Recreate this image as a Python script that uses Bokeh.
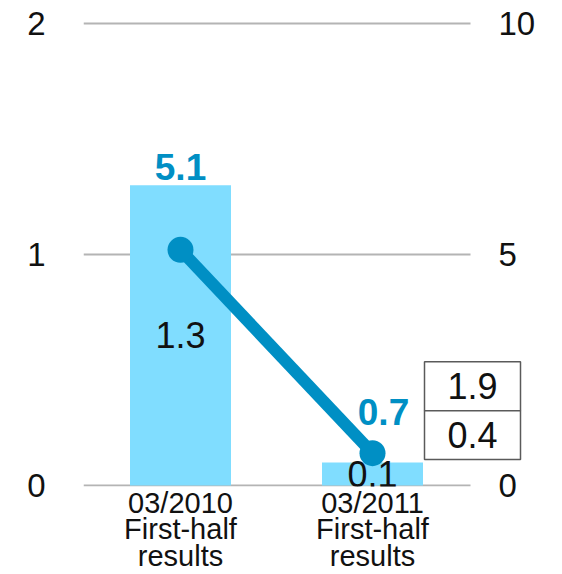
from bokeh.plotting import figure
from bokeh.models import Range1d, LinearAxis, FixedTicker, BoxAnnotation, Label
from bokeh.embed import file_html
from bokeh.resources import INLINE
from bokeh.core.properties import value

# ---------------- data ----------------
periods = ["03/2010\nFirst-half\nresults", "03/2011\nFirst-half\nresults"]
bar_values = [1.3, 0.1]          # left axis
line_values = [5.1, 0.7]         # right axis
box_values = [1.9, 0.4]          # boxed figures
left_ticks = [0, 1, 2]
right_ticks = [0, 5, 10]

# ---------------- style / layout ----------------
FONT = "Liberation Sans"
BAR_COLOR = "#80DDFF"
LINE_COLOR = "#008FC4"
GRID_COLOR = "#B4B4B4"
TEXT_COLOR = "#111111"
BOX_LINE = "#5A5A5A"

W, H = 562, 574
# pixel geometry of the reference
CAT0_PX, CAT_STEP = 180, 192        # x centre of first category, px between categories
Y0_PX, PX_PER_UNIT = 486, 231.5     # y of zero line, px per left-axis unit
FRAME_L, FRAME_R = 83, 556
FRAME_T, FRAME_B = 15, 487
GRID_L, GRID_R = 83, 470
RIGHT_LABEL_X = 498
RIGHT_SCALE = right_ticks[-1] / left_ticks[-1]

def xd(px):
    return (px - CAT0_PX) / CAT_STEP

def yd(py):
    return (Y0_PX - py) / PX_PER_UNIT

xs = list(range(len(periods)))

p = figure(width=W, height=H, output_backend="svg", toolbar_location=None,
           x_range=Range1d(xd(FRAME_L), xd(FRAME_R)),
           y_range=Range1d(yd(FRAME_B), yd(FRAME_T)),
           min_border_left=FRAME_L, min_border_right=W - FRAME_R,
           min_border_top=FRAME_T, min_border_bottom=H - FRAME_B)
p.extra_y_ranges = {"right": Range1d(yd(FRAME_B) * RIGHT_SCALE, yd(FRAME_T) * RIGHT_SCALE)}
p.outline_line_color = None
p.background_fill_color = "white"
p.border_fill_color = "white"
p.grid.visible = False

# horizontal grid lines (only across the plotting area)
p.segment(x0=[xd(GRID_L)] * len(left_ticks), x1=[xd(GRID_R)] * len(left_ticks),
          y0=left_ticks, y1=left_ticks, line_color=GRID_COLOR, line_width=2)

# x axis with multi-line category labels
xa = p.xaxis[0]
xa.ticker = FixedTicker(ticks=xs)
xa.major_label_overrides = {i: s for i, s in zip(xs, periods)}
xa.axis_line_color = None
xa.major_tick_line_color = None
xa.minor_tick_line_color = None
xa.major_tick_out = 0
xa.major_tick_in = 0
xa.major_label_standoff = 0
xa.major_label_text_font = FONT
xa.major_label_text_font_size = "29px"
xa.major_label_text_line_height = 0.83
xa.major_label_text_color = TEXT_COLOR

ya = p.yaxis[0]
ya.ticker = FixedTicker(ticks=left_ticks)
ya.axis_line_color = None
ya.major_tick_line_color = None
ya.minor_tick_line_color = None
ya.major_tick_out = 0
ya.major_tick_in = 0
ya.major_label_standoff = 38
ya.major_label_text_font = FONT
ya.major_label_text_font_size = "33px"
ya.major_label_text_color = TEXT_COLOR

ra = LinearAxis(y_range_name="right", ticker=FixedTicker(ticks=right_ticks))
ra.axis_line_color = None
ra.major_tick_line_color = None
ra.minor_tick_line_color = None
ra.major_tick_out = 0
ra.major_tick_in = 0
ra.major_label_standoff = RIGHT_LABEL_X - FRAME_R
ra.major_label_text_font = FONT
ra.major_label_text_font_size = "33px"
ra.major_label_text_color = TEXT_COLOR
p.add_layout(ra, "right")

# bars
p.vbar(x=xs, top=bar_values, width=101 / CAT_STEP, fill_color=BAR_COLOR, line_color=None)
# bar value labels (centred in bar)
p.text(x=xs, y=[v / 2 for v in bar_values], text=[f"{v:.1f}" for v in bar_values],
       text_align="center", text_baseline="middle", text_font=value(FONT),
       text_font_size="36px", text_color=TEXT_COLOR)

# line
p.line(x=xs, y=line_values, y_range_name="right", line_color=LINE_COLOR, line_width=12)
p.scatter(x=xs, y=line_values, y_range_name="right", size=26,
          fill_color=LINE_COLOR, line_color=None)
p.text(x=xs, y=line_values, y_range_name="right", text=[f"{v:.1f}" for v in line_values],
       x_offset=[0, 11], y_offset=[-83, -41],
       text_align="center", text_baseline="middle", text_font=value(FONT),
       text_font_style="bold", text_font_size="37px", text_color=LINE_COLOR)

# boxed figures
BOX_L, BOX_R = 424, 520
BOX_EDGES = [362, 411, 460]
for i, v in enumerate(box_values):
    top_px, bot_px = BOX_EDGES[i], BOX_EDGES[i + 1]
    p.add_layout(BoxAnnotation(left=xd(BOX_L), right=xd(BOX_R), top=yd(top_px), bottom=yd(bot_px),
                               fill_color="white", fill_alpha=1.0,
                               line_color=BOX_LINE, line_alpha=1.0, line_width=1.5))
    p.add_layout(Label(x=xd((BOX_L + BOX_R) / 2), y=yd((top_px + bot_px) / 2), text=f"{v:.1f}",
                       text_align="center", text_baseline="middle", text_font=FONT,
                       text_font_size="36px", text_color=TEXT_COLOR))

open("out.html", "w").write(file_html(p, INLINE))
